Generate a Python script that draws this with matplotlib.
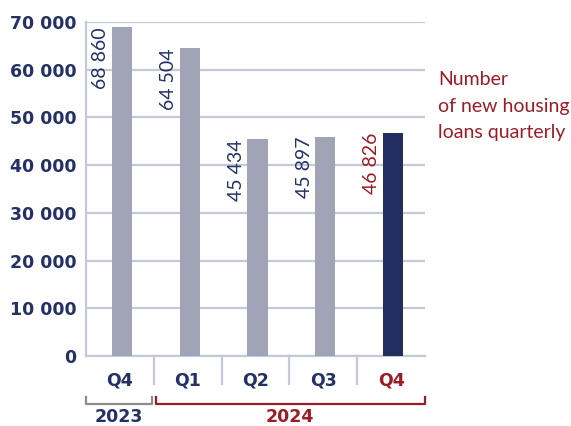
"""
Number of new housing loans, quarterly bar chart
"""
import matplotlib
matplotlib.use('Agg')
import matplotlib.pyplot as plt
import matplotlib.transforms as mtransforms

#%% Data
quarters = ['Q4', 'Q1', 'Q2', 'Q3', 'Q4']
loans = [68860, 64504, 45434, 45897, 46826]
years = ['2023', '2024']
year_spans = [(0, 0), (1, 4)]  # first and last quarter index for each year
y_ticks = [0, 10000, 20000, 30000, 40000, 50000, 60000, 70000]
title_text = 'Number\nof new housing\nloans quarterly'

#%% Style
navy = '#243066'
red = '#9b1c26'
bar_grey = '#a1a4b7'
bar_dark = '#222d60'
grid_col = '#c4c9d8'
narrow = ['Lato', 'DejaVu Sans']


def fmt(v):
    return f'{v:,}'.replace(',', ' ')


fig = plt.figure(figsize=(5.71, 4.26), dpi=100)
ax = fig.add_axes([0.1506, 0.1643, 0.5937, 0.7841])

x = list(range(len(quarters)))
colors = [bar_grey] * (len(loans) - 1) + [bar_dark]
bar_w = 0.3
offset = 0.03
ax.bar([i + offset for i in x], loans, width=bar_w, color=colors, zorder=3)

ax.set_xlim(-0.5, len(quarters) - 0.5)
ax.set_ylim(0, 70000)

# value labels, rotated, to the left of each bar
for i, v in enumerate(loans):
    col = red if i == len(loans) - 1 else navy
    ax.annotate(fmt(v), xy=(i + offset - bar_w / 2, v), xytext=(-11, 0),
                textcoords='offset pixels', rotation=90, ha='center', va='top',
                fontsize=14, color=col, family=narrow, zorder=4)

# grid and axes
ax.set_yticks(y_ticks, [fmt(t) for t in y_ticks])
ax.yaxis.grid(True, color=grid_col, lw=1.6, zorder=0)
ax.tick_params(axis='y', length=0, pad=7, labelsize=12.5, labelcolor=navy)
for lab in ax.get_yticklabels():
    lab.set_fontweight('bold')

ax.set_xticks(x, quarters)
ax.tick_params(axis='x', length=0, pad=11, labelsize=12.5, labelcolor=navy)
for i, lab in enumerate(ax.get_xticklabels()):
    lab.set_fontweight('bold')
    if i == len(quarters) - 1:
        lab.set_color(red)

for s in ['top', 'right']:
    ax.spines[s].set_visible(False)
for s in ['left', 'bottom']:
    ax.spines[s].set_color(grid_col)
    ax.spines[s].set_linewidth(1.6)

# separators between quarters below the axis
trans = mtransforms.blended_transform_factory(ax.transData, ax.transAxes)
for i in x[1:]:
    ax.plot([i - 0.5, i - 0.5], [0, -0.084], transform=trans, color=grid_col,
            lw=1.6, clip_on=False)

# year brackets
gap = 0.03
for k, (yr, (a, b)) in enumerate(zip(years, year_spans)):
    col = '#8c8c8c' if k == 0 else red
    tcol = navy if k == 0 else red
    x0, x1 = a - 0.5 + (0 if k == 0 else gap), b + 0.5 - (gap if k == 0 else 0.005)
    ax.plot([x0, x0, x1, x1], [-0.123, -0.144, -0.144, -0.123], transform=trans,
            color=col, lw=1.6, clip_on=False)
    ax.text((x0 + x1) / 2, -0.183, yr, transform=trans, ha='center', va='center',
            fontsize=12.5, fontweight='bold', color=tcol)

fig.text(0.767, 0.751, title_text, ha='left', va='center', fontsize=14,
         color=red, family=narrow, linespacing=1.65)

fig.savefig('out.png', dpi=100)
